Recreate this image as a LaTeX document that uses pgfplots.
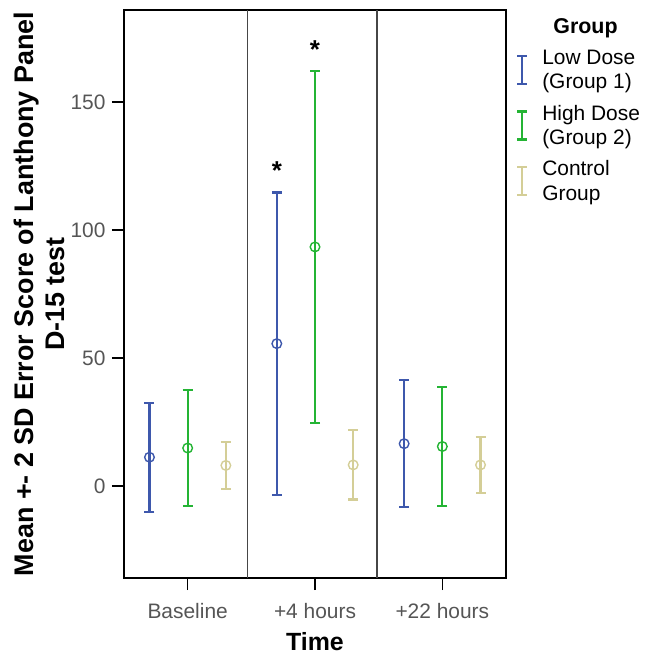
\documentclass[border=0pt]{standalone}
\usepackage{pgfplots}
\pgfplotsset{compat=1.18}
\usepackage{fontspec}
\setmainfont{Liberation Sans}

\definecolor{lowblue}{RGB}{62,88,172}
\definecolor{highgreen}{RGB}{36,180,52}
\definecolor{ctrltan}{RGB}{212,206,151}
\definecolor{ticktext}{RGB}{85,85,85}
\definecolor{divider}{RGB}{70,70,70}

\pgfplotsset{
  ibar/.style={
    legend image code/.code={
      \draw[line width=2.2bp] (5bp,-14bp) -- (5bp,14bp);
      \draw[line width=2.2bp] (0bp,-14bp) -- (10bp,-14bp);
      \draw[line width=2.2bp] (0bp,14bp) -- (10bp,14bp);
    }
  },
  ebar/.style={
    only marks, mark=o, mark size=4.8bp, line width=2.2bp,
    mark options={line width=1.4bp},
    error bars/.cd, y dir=both, y explicit,
    error bar style={line width=2.2bp, solid},
    error mark options={rotate=90, mark size=5bp, line width=2.2bp},
    /pgfplots/.cd,
  },
}

\begin{document}
\begin{tikzpicture}
\begin{axis}[
  name=ax,
  scale only axis,
  width=382bp, height=568bp,
  xmin=-0.5, xmax=2.5,
  ymin=-36, ymax=186,
  xtick={0,1,2},
  xticklabels={Baseline,+4 hours,+22 hours},
  ytick={0,50,100,150},
  tick align=outside,
  major tick length=12bp,
  xtick pos=bottom, ytick pos=left,
  tick style={line width=1.6bp, black},
  axis line style={line width=1.6bp},
  ticklabel style={font=\fontsize{21}{23}\selectfont, text=ticktext},
  xticklabel style={yshift=-10bp},
  yticklabel style={xshift=-3bp},
  /pgf/number format/assume math mode=true,
  xlabel={Time},
  ylabel={Mean +- 2 SD Error Score of Lanthony Panel\\D-15 test},
  ylabel style={font=\bfseries\fontsize{27}{31}\selectfont, align=center,
    at={(axis description cs:-0.2225,0.5)}, anchor=center},
  xlabel style={font=\bfseries\fontsize{25}{27}\selectfont,
    at={(axis description cs:0.5,-0.112)}, anchor=center},
  legend style={at={(axis description cs:1.018,0.935)}, anchor=north west,
    draw=none, fill=none, font=\fontsize{21}{24.5}\selectfont,
    nodes={align=left, inner sep=1bp}, row sep=12.5bp, column sep=13bp},
  legend cell align=left,
]
\addplot[lowblue, ibar, ebar] coordinates {
  (-0.3,11.2)  +- (0,21.3)
  (0.7,55.6)   +- (0,59.1)
  (1.7,16.5)   +- (0,24.9)
};
\addlegendentry{Low Dose\\(Group 1)}
\addplot[highgreen, ibar, ebar] coordinates {
  (0,14.8)  +- (0,22.7)
  (1,93.4)  +- (0,68.7)
  (2,15.4)  +- (0,23.2)
};
\addlegendentry{High Dose\\(Group 2)}
\addplot[ctrltan, ibar, ebar] coordinates {
  (0.3,8.0)  +- (0,9.2)
  (1.3,8.2)  +- (0,13.5)
  (2.3,8.2)  +- (0,10.9)
};
\addlegendentry{Control\\Group}

\draw[divider, line width=1.8bp] (axis cs:0.47,-36) -- (axis cs:0.47,186);
\draw[divider, line width=1.8bp] (axis cs:1.49,-36) -- (axis cs:1.49,186);

\node[anchor=base, font=\bfseries\fontsize{26}{28}\selectfont] at (axis cs:0.7,119.6) {*};
\node[anchor=base, font=\bfseries\fontsize{26}{28}\selectfont] at (axis cs:1,167.2) {*};
\end{axis}
\node[anchor=base, font=\bfseries\fontsize{21.5}{24}\selectfont] at ([xshift=79.5bp,yshift=-24bp]ax.north east) {Group};
\path ([xshift=-124bp,yshift=-77bp]ax.south west) rectangle ([xshift=139bp,yshift=10bp]ax.north east);
\end{tikzpicture}
\end{document}
